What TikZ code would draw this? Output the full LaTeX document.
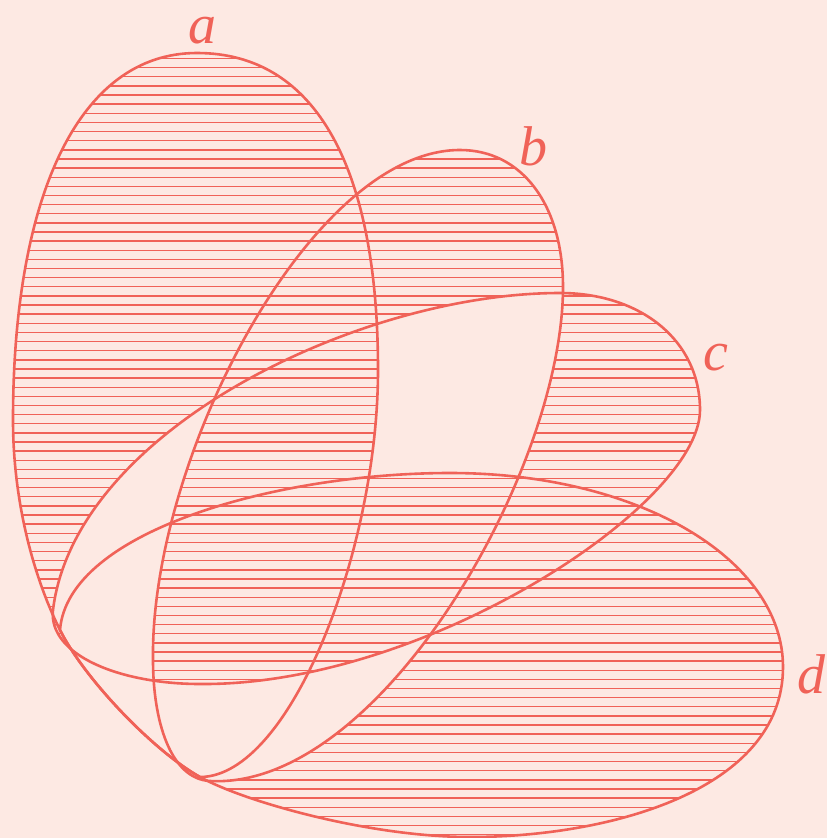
\documentclass[tikz,border=0pt]{standalone}
\usepackage{fontspec}
\setmainfont{Liberation Serif}
\definecolor{bg}{RGB}{253,233,227}
\definecolor{ln}{RGB}{240,98,88}
\begin{document}
\begin{tikzpicture}[x=1pt,y=-1pt,
  outline/.style={draw=ln, line width=2.6pt},
  hatchline/.style={draw=ln, line width=1.4pt},
  lbl/.style={text=ln, font=\fontsize{56}{56}\selectfont\itshape, inner sep=0pt, anchor=base}]
\fill[bg] (0,0) rectangle (827,838);
\useasboundingbox (0,0) rectangle (827,838);
\def\pa{(197,53) .. controls (317,53) and (378,170) .. (378,370) .. controls (378,550) and (290,777) .. (200,777) .. controls (155,752) and (85,680) .. (60,630) .. controls (33,576) and (13,500) .. (13,420) .. controls (13,200) and (77,53) .. (197,53) -- cycle}
\def\pb{(460,150) .. controls (522,150) and (563,205) .. (563,287) .. controls (563,470) and (380,790) .. (210,781) .. controls (170,779) and (153,720) .. (153,660) .. controls (150,460) and (310,150) .. (460,150) -- cycle}
\def\pc{(53,610) .. controls (75,430) and (360,293) .. (560,293) .. controls (640,293) and (700,340) .. (700,410) .. controls (700,505) and (425,686) .. (200,684) .. controls (120,684) and (48,655) .. (53,610) -- cycle}
\def\pd{(60,630) .. controls (68,530) and (280,473) .. (450,473) .. controls (640,473) and (783,560) .. (783,667) .. controls (783,790) and (610,837) .. (470,837) .. controls (370,837) and (245,802) .. (200,777) .. controls (155,752) and (85,680) .. (60,630) -- cycle}
\newcommand\hatchall{\foreach \k in {0,...,86} {\draw[hatchline] (0,{49.4+9.13*\k}) -- (827,{49.4+9.13*\k});}}
% hatch every set
\begin{scope}\clip \pa; \hatchall \end{scope}
\begin{scope}\clip \pb; \hatchall \end{scope}
\begin{scope}\clip \pc; \hatchall \end{scope}
\begin{scope}\clip \pd; \hatchall \end{scope}
% clear the pairwise overlaps a-c, a-d, b-c, b-d
\begin{scope}\clip \pa; \fill[bg] \pc; \end{scope}
\begin{scope}\clip \pa; \fill[bg] \pd; \end{scope}
\begin{scope}\clip \pb; \fill[bg] \pc; \end{scope}
\begin{scope}\clip \pb; \fill[bg] \pd; \end{scope}
% re-hatch a-b-c and b-c-d
\begin{scope}\clip \pa; \clip \pb; \clip \pc; \hatchall \end{scope}
\begin{scope}\clip \pb; \clip \pc; \clip \pd; \hatchall \end{scope}
% outlines
\draw[outline] \pa;
\draw[outline] \pb;
\draw[outline] \pc;
\draw[outline] \pd;
% labels
\node[lbl] (la) at (202,43) {a};
\node[lbl] (lb) at (533,165) {b};
\node[lbl] (lc) at (716,370) {c};
\node[lbl] (ld) at (811,693) {d};
\end{tikzpicture}
\end{document}
